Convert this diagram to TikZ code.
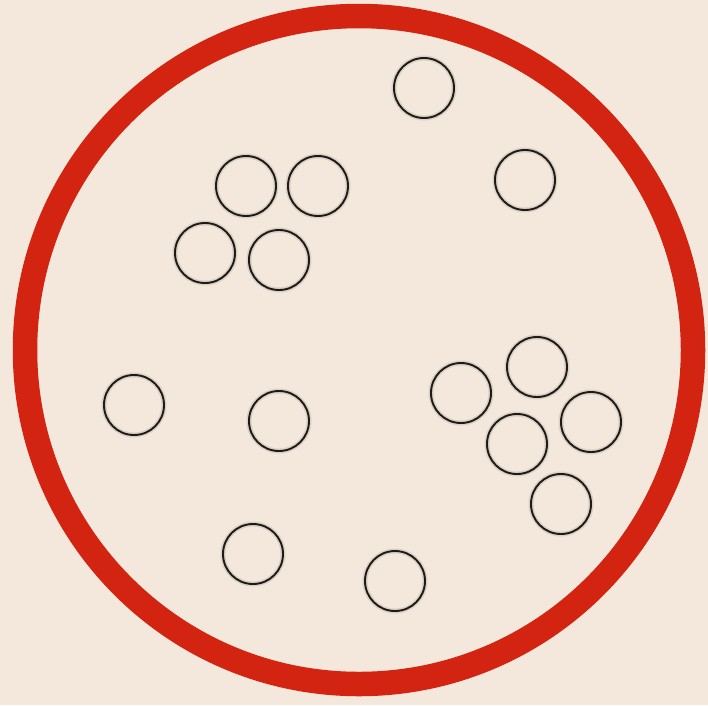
\documentclass[tikz,border=0pt]{standalone}
\definecolor{woodbg}{RGB}{243,232,219}
\definecolor{ringred}{RGB}{210,36,16}
\definecolor{ringdark}{RGB}{30,26,24}
\tikzset{
  chip/.style={circle, draw=ringdark, line width=1.9pt, minimum size=60pt, inner sep=0pt,
    preaction={draw=black, draw opacity=0.10, line width=5pt}},
}
\begin{document}
\begin{tikzpicture}[x=1pt,y=-1pt]
\fill[woodbg] (0,0) rectangle (708,705);
\useasboundingbox (0,0) rectangle (708,705);
% big red ring
\draw[ringred, line width=24.5pt] (359,350) circle[radius=334];
% small circles
\node[chip] (c1)  at (424,88)  {};
\node[chip] (c2)  at (246,186) {};
\node[chip] (c3)  at (318,186) {};
\node[chip] (c4)  at (525,180) {};
\node[chip] (c5)  at (205,253) {};
\node[chip] (c6)  at (279,260) {};
\node[chip] (c7)  at (134,405) {};
\node[chip] (c8)  at (279,421) {};
\node[chip] (c9)  at (461,393) {};
\node[chip] (c10) at (537,367) {};
\node[chip] (c11) at (517,444) {};
\node[chip] (c12) at (591,422) {};
\node[chip] (c13) at (561,504) {};
\node[chip] (c14) at (253,554) {};
\node[chip] (c15) at (395,581) {};
\end{tikzpicture}
\end{document}
